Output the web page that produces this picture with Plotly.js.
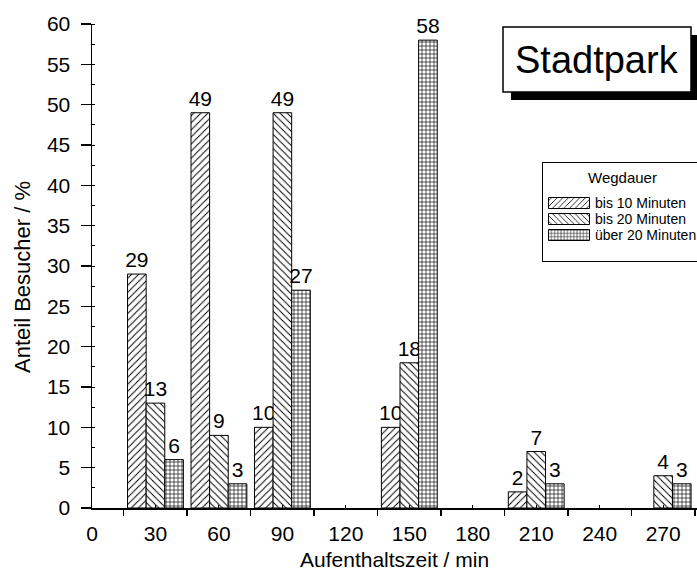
<!DOCTYPE html>
<html>
<head>
<meta charset="utf-8">
<script src="https://cdn.plot.ly/plotly-3.0.1.min.js"></script>
<style>html,body{margin:0;padding:0;background:#fff;overflow:hidden;}#chart{width:697px;height:573px;}</style>
</head>
<body>
<div id="chart"></div>
<script>
// ---- data ----
const minutes = [30, 60, 90, 120, 150, 180, 210, 240, 270];
const bis10 = [29, 49, 10, 0, 10, 0, 2, 0, 0];
const bis20 = [13, 9, 49, 0, 18, 0, 7, 0, 4];
const ueber20 = [6, 3, 27, 0, 58, 0, 3, 0, 3];
const seriesNames = ['bis 10 Minuten', 'bis 20 Minuten', 'über 20 Minuten'];
const xTickVals = [0, 30, 60, 90, 120, 150, 180, 210, 240, 270];
const xMinorVals = [15, 45, 75, 105, 135, 165, 195, 225, 255, 285];
const titleText = 'Stadtpark';
const legendTitle = 'Wegdauer';
const xTitle = 'Aufenthaltszeit / min';
const yTitle = 'Anteil Besucher / %';

// ---- layout geometry ----
const W = 697, H = 573, ML = 92, MR = 0, MT = 24, MB = 65;
const PW = W - ML - MR, PH = H - MT - MB;
const px2x = p => (p - ML) / PW;
const px2y = p => (H - MB - p) / PH;
const FONT = 'Liberation Sans, Arial, Helvetica, sans-serif';

function mk(vals, name, shape, size, sol) {
  return {
    type: 'bar', x: minutes, y: vals.map(v => v === 0 ? null : v), name: name,
    text: vals.map(v => v > 0 ? String(v) : ''),
    textposition: 'outside', cliponaxis: false, constraintext: 'none',
    textfont: {family: FONT, size: 21, color: '#000'},
    marker: {color: '#fff', line: {color: '#000', width: 1},
      pattern: {shape: shape, fgcolor: '#000', bgcolor: '#fff', size: size, solidity: sol}},
    hoverinfo: 'skip'
  };
}

const data = [
  mk(bis10, seriesNames[0], '/', 5, 0.2),
  mk(bis20, seriesNames[1], '\\', 5, 0.2),
  mk(ueber20, seriesNames[2], '+', 4, 0.3)
];

const layout = {
  width: W, height: H,
  margin: {l: ML, r: MR, t: MT, b: MB, pad: 0, autoexpand: false},
  paper_bgcolor: '#fff', plot_bgcolor: '#fff',
  font: {family: FONT, size: 21, color: '#000'},
  barmode: 'group', bargap: 0.12, bargroupgap: 0,
  showlegend: true,
  legend: {
    x: px2x(542), y: px2y(162), xanchor: 'left', yanchor: 'top',
    bgcolor: '#fff', bordercolor: '#000', borderwidth: 1,
    font: {family: FONT, size: 14, color: '#000'},
    title: {text: legendTitle, side: 'top center', font: {family: FONT, size: 15}},
    itemwidth: 42, traceorder: 'normal'
  },
  xaxis: {
    range: [0, 286], showgrid: false, zeroline: false,
    showline: true, linecolor: '#000', linewidth: 1.5,
    tickmode: 'array', tickvals: xTickVals, ticktext: xTickVals.map(String),
    ticks: 'inside', ticklen: 3, tickwidth: 1, tickcolor: '#000',
    ticklabelstandoff: 6,
    tickfont: {family: FONT, size: 21, color: '#000'},
    minor: {tickmode: 'array', tickvals: xMinorVals, ticks: 'outside', ticklen: 6, tickwidth: 1.5, tickcolor: '#000', showgrid: false},
    fixedrange: true
  },
  yaxis: {
    range: [0, 60], showgrid: false, zeroline: false,
    showline: true, linecolor: '#000', linewidth: 1.5,
    tickmode: 'linear', tick0: 0, dtick: 5,
    ticks: 'outside', ticklen: 10, tickwidth: 1.5, tickcolor: '#000',
    ticklabelstandoff: 6,
    tickfont: {family: FONT, size: 21, color: '#000'},
    minor: {dtick: 2.5, ticks: 'inside', ticklen: 3, tickwidth: 1, tickcolor: '#000', showgrid: false},
    fixedrange: true
  },
  shapes: [
    {type: 'rect', xref: 'paper', yref: 'paper', layer: 'above',
      x0: px2x(511), x1: px2x(702), y0: px2y(35), y1: px2y(100),
      fillcolor: '#000', line: {color: '#000', width: 0}},
    {type: 'rect', xref: 'paper', yref: 'paper', layer: 'above',
      x0: px2x(503), x1: px2x(691), y0: px2y(27), y1: px2y(92),
      fillcolor: '#fff', line: {color: '#000', width: 1.5}}
  ],
  annotations: [
    {text: titleText, xref: 'paper', yref: 'paper', x: px2x(597), y: px2y(60),
      xanchor: 'center', yanchor: 'middle', showarrow: false,
      font: {family: FONT, size: 38, color: '#000'}},
    {text: xTitle, xref: 'paper', yref: 'paper', x: px2x(394), y: px2y(559),
      xanchor: 'center', yanchor: 'middle', showarrow: false,
      font: {family: FONT, size: 21, color: '#000'}},
    {text: yTitle, xref: 'paper', yref: 'paper', x: px2x(22), y: px2y(277),
      xanchor: 'center', yanchor: 'middle', showarrow: false, textangle: -90,
      font: {family: FONT, size: 22, color: '#000'}}
  ]
};

function parseT(t) {
  const m = /translate\(\s*([-\d.e]+)[\s,]+([-\d.e]+)\s*\)/.exec(t || '');
  return m ? [parseFloat(m[1]), parseFloat(m[2])] : [0, 0];
}

Plotly.newPlot('chart', data, layout, {staticPlot: true, displayModeBar: false}).then(gd => {
  // wider legend swatches like the original
  gd.querySelectorAll('.legend .legendpoints path').forEach(p => {
    p.setAttribute('d', 'M-20.5,5.5H20.5V-5.5H-20.5Z');
  });
  // tighter row pitch as in the original legend
  const items = Array.from(gd.querySelectorAll('.legend .traces'));
  items.forEach((it, i) => {
    const t = parseT(it.getAttribute('transform'));
    it.setAttribute('transform', 'translate(' + t[0] + ',' + (41 + 16 * i) + ')');
  });
  const bg = gd.querySelector('.legend rect.bg');
  if (bg) bg.setAttribute('height', 99);
});
</script>
</body>
</html>
